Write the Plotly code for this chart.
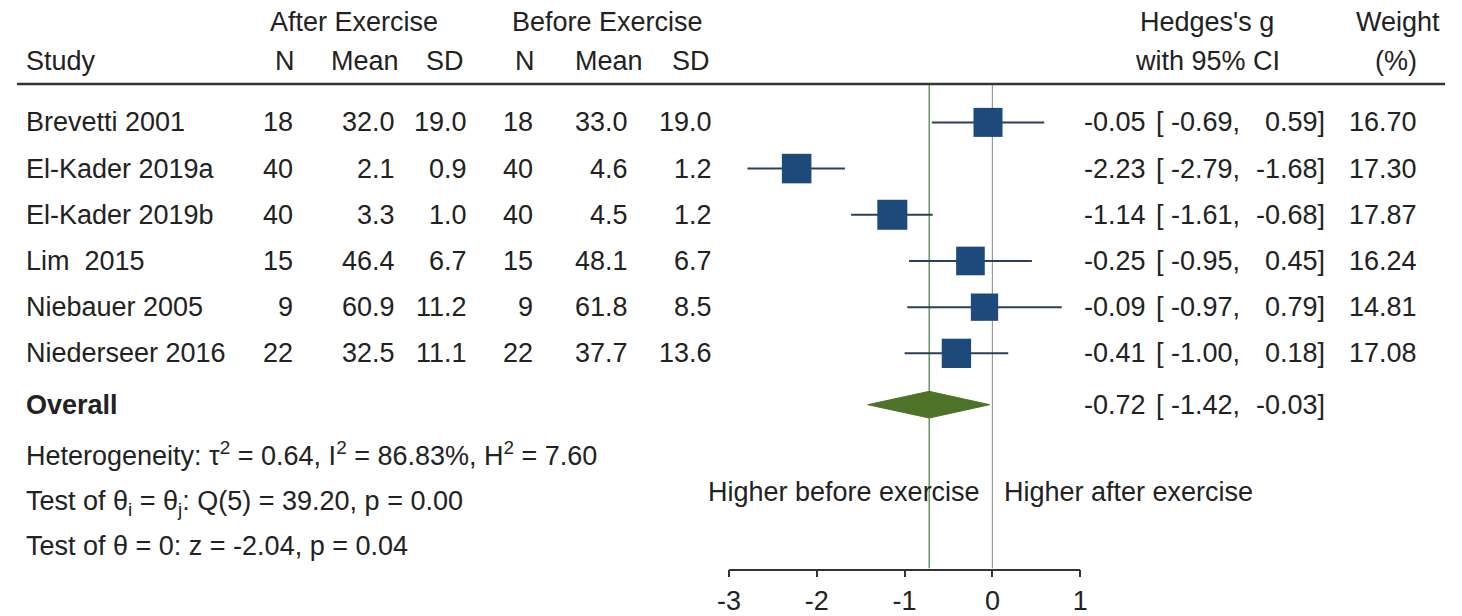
import plotly.graph_objects as go

# ---------------- data ----------------
studies = ["Brevetti 2001", "El-Kader 2019a", "El-Kader 2019b", "Lim  2015", "Niebauer 2005", "Niederseer 2016"]
n_after = [18, 40, 40, 15, 9, 22]
mean_after = [32.0, 2.1, 3.3, 46.4, 60.9, 32.5]
sd_after = [19.0, 0.9, 1.0, 6.7, 11.2, 11.1]
n_before = [18, 40, 40, 15, 9, 22]
mean_before = [33.0, 4.6, 4.5, 48.1, 61.8, 37.7]
sd_before = [19.0, 1.2, 1.2, 6.7, 8.5, 13.6]
hedges_g = [-0.05, -2.23, -1.14, -0.25, -0.09, -0.41]
ci_low = [-0.69, -2.79, -1.61, -0.95, -0.97, -1.00]
ci_high = [0.59, -1.68, -0.68, 0.45, 0.79, 0.18]
weights = [16.70, 17.30, 17.87, 16.24, 14.81, 17.08]
overall_g = -0.72
overall_low = -1.42
overall_high = -0.03
x_ticks = [-3, -2, -1, 0, 1]
stats_lines = [
    "Heterogeneity: τ<sup>2</sup> = 0.64, I<sup>2</sup> = 86.83%, H<sup>2</sup> = 7.60",
    "Test of θ<sub>i</sub> = θ<sub>j</sub>: Q(5) = 39.20, p = 0.00",
    "Test of θ = 0: z = -2.04, p = 0.04",
]
label_left = "Higher before exercise"
label_right = "Higher after exercise"

# ---------------- layout constants ----------------
W, H = 1462, 616
FONT = "Liberation Sans, Arial, sans-serif"
FS = 27
TXT = "#222222"
SQ_COLOR = "#1d4a7a"
CI_COLOR = "#2b4058"
DIAMOND = "#4d7328"
GREEN_LINE = "#3e7d3e"

ROW_PX0 = 124.0
ROW_STEP = 46.8
AXIS_PX = 576.0
X_LEFT_PX, X_RIGHT_PX = 727.0, 1083.0
STATS_PX = [460, 510, 553]


def row_of(py):
    return (py - ROW_PX0) / ROW_STEP


def px(x):
    return x / W


y_top = row_of(0)
y_bot = row_of(AXIS_PX)
overall_row = row_of(410)
rule_row = row_of(85)

fig = go.Figure()

study_rows = list(range(len(studies)))

# CI lines + weighted squares
fig.add_trace(go.Scatter(
    x=hedges_g, y=study_rows, mode="markers",
    marker=dict(symbol="square", color=SQ_COLOR, opacity=1,
                size=[7.1 * w ** 0.5 for w in weights], line=dict(width=0)),
    error_x=dict(type="data", symmetric=False,
                 array=[h - g for g, h in zip(hedges_g, ci_high)],
                 arrayminus=[g - l for g, l in zip(hedges_g, ci_low)],
                 color=CI_COLOR, thickness=2, width=0),
    showlegend=False, hoverinfo="skip", cliponaxis=False,
))

# overall diamond
half_h = 13.5 / ROW_STEP
fig.add_trace(go.Scatter(
    x=[overall_low, overall_g, overall_high, overall_g, overall_low],
    y=[overall_row, overall_row - half_h, overall_row, overall_row + half_h, overall_row],
    mode="lines", fill="toself", fillcolor=DIAMOND, line=dict(color=DIAMOND, width=1),
    showlegend=False, hoverinfo="skip",
))

shapes = []
# header rule
shapes.append(dict(type="line", xref="paper", yref="y", x0=px(5), x1=px(1453),
                   y0=rule_row, y1=rule_row, line=dict(color="#333333", width=2.5)))
# null line (0) and overall line
shapes.append(dict(type="line", xref="x", yref="y", x0=0, x1=0, y0=rule_row, y1=y_bot,
                   line=dict(color="#9a9a9a", width=1.2), layer="below"))
shapes.append(dict(type="line", xref="x", yref="y", x0=overall_g, x1=overall_g, y0=rule_row, y1=y_bot,
                   line=dict(color=GREEN_LINE, width=1.2), layer="below"))

ann = []


def text(x_px, row, s, anchor="left", bold=False, size=FS):
    ann.append(dict(xref="paper", yref="y", x=px(x_px), y=row, text=("<b>%s</b>" % s) if bold else s,
                    xanchor=anchor, yanchor="middle", showarrow=False,
                    font=dict(family=FONT, size=size, color=TXT)))


# headers
h1, h2 = row_of(22), row_of(62)
text(347, h1, "After Exercise", "center")
text(604, h1, "Before Exercise", "center")
text(1212, h1, "Hedges's g", "center")
text(1405, h1, "Weight", "center")
text(12, h2, "Study")
text(277, h2, "N", "center")
text(358, h2, "Mean", "center")
text(439, h2, "SD", "center")
text(520, h2, "N", "center")
text(605, h2, "Mean", "center")
text(688, h2, "SD", "center")
text(1212, h2, "with 95% CI", "center")
text(1403, h2, "(%)", "center")

for i, r in enumerate(study_rows):
    text(12, r, studies[i].replace("  ", "&nbsp; "))
    text(287, r, str(n_after[i]), "right")
    text(390, r, "%.1f" % mean_after[i], "right")
    text(463, r, "%.1f" % sd_after[i], "right")
    text(530, r, str(n_before[i]), "right")
    text(627, r, "%.1f" % mean_before[i], "right")
    text(712, r, "%.1f" % sd_before[i], "right")
    text(1152, r, "%.2f" % hedges_g[i], "right")
    text(1158, r, "[ %.2f," % ci_low[i], "left")
    text(1333, r, "%.2f]" % ci_high[i], "right")
    text(1427, r, "%.2f" % weights[i], "right")

text(12, overall_row, "Overall", bold=True)
text(1152, overall_row, "%.2f" % overall_g, "right")
text(1158, overall_row, "[ %.2f," % overall_low, "left")
text(1333, overall_row, "%.2f]" % overall_high, "right")

for k, s in enumerate(stats_lines):
    text(12, row_of(STATS_PX[k]), s)

text(983, row_of(498), label_left, "right")
text(1004, row_of(498), label_right, "left")

fig.update_layout(
    width=W, height=H, margin=dict(l=0, r=0, t=0, b=0),
    paper_bgcolor="white", plot_bgcolor="white",
    shapes=shapes, annotations=ann, showlegend=False,
    xaxis=dict(domain=[px(X_LEFT_PX), px(X_RIGHT_PX)], range=[x_ticks[0], x_ticks[-1]],
               tickvals=x_ticks, ticktext=[str(t) for t in x_ticks],
               showline=True, linecolor="#333333", linewidth=1.5,
               ticks="outside", ticklen=7, tickwidth=1.5, tickcolor="#333333",
               showgrid=False, zeroline=False,
               tickfont=dict(family=FONT, size=FS, color=TXT)),
    yaxis=dict(domain=[(H - AXIS_PX) / H, 1], range=[y_bot, y_top],
               visible=False, showgrid=False, zeroline=False),
)

fig.write_html("out.html", config={"displayModeBar": False},
               post_script="document.body.style.margin='0';document.body.style.padding='0';"
                           "document.body.style.overflow='hidden';")
